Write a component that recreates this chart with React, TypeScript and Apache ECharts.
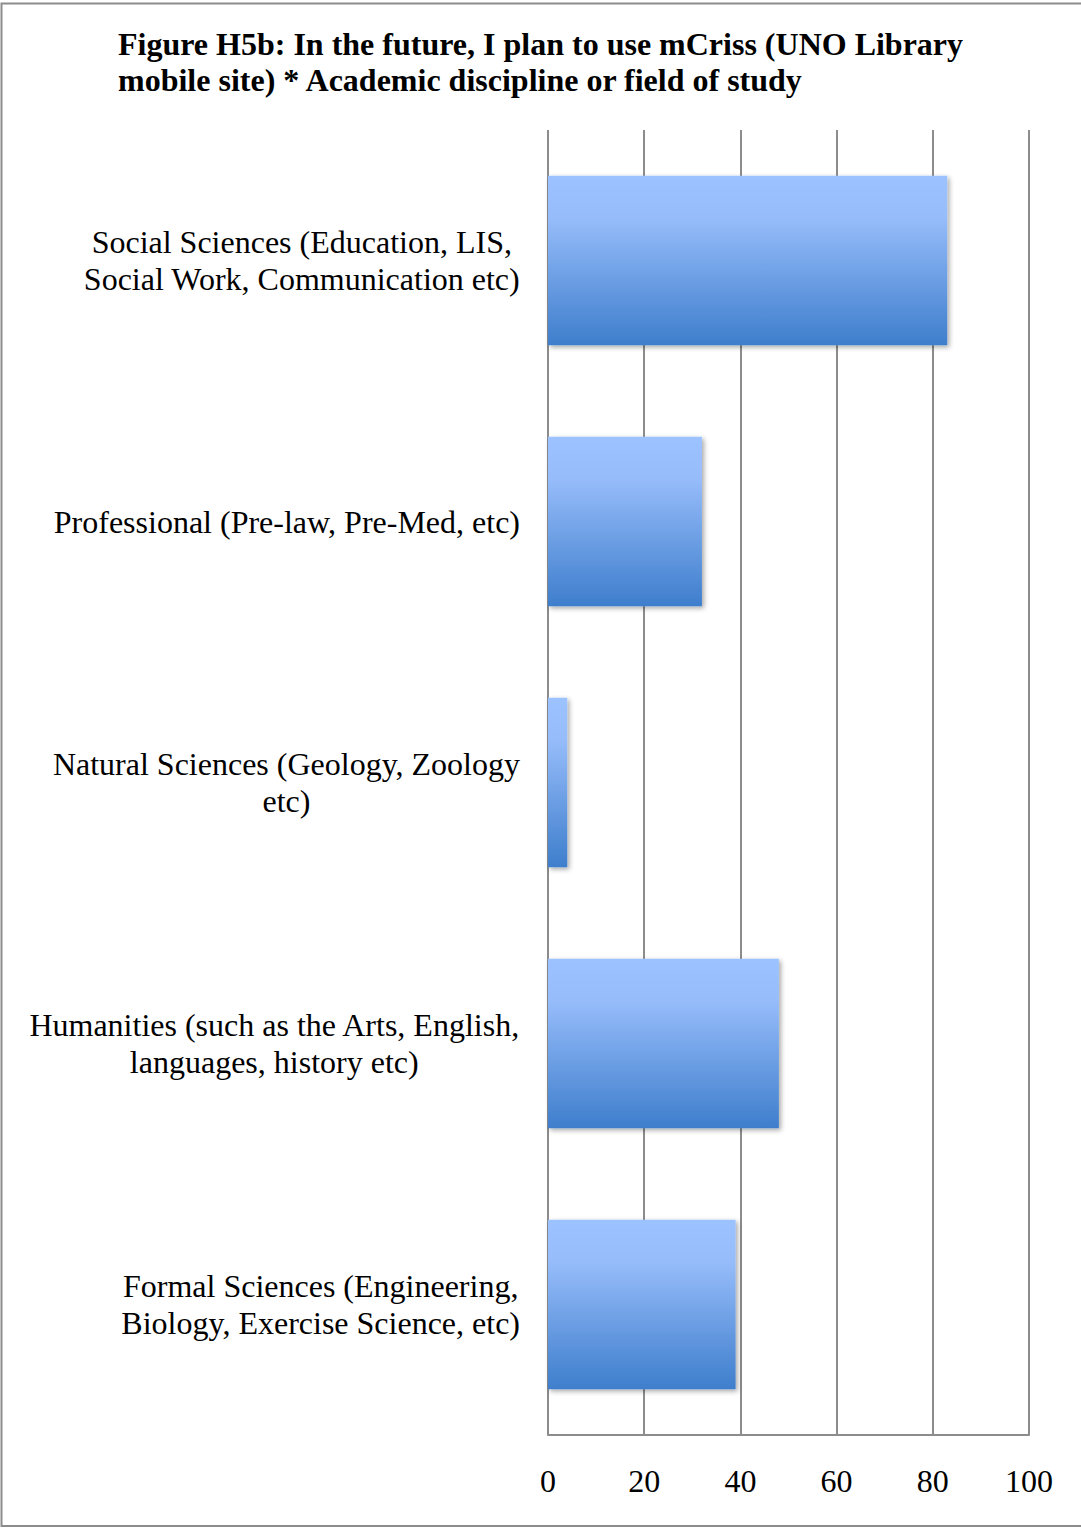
import React, { useEffect, useRef } from "react";
import * as echarts from "echarts";

const titleText =
  "Figure H5b: In the future, I plan to use mCriss (UNO Library\nmobile site) * Academic discipline or field of study";

const categories = [
  "Social Sciences (Education, LIS,\nSocial Work, Communication etc)",
  "Professional (Pre-law, Pre-Med, etc)",
  "Natural Sciences (Geology, Zoology\netc)",
  "Humanities (such as the Arts, English,\nlanguages, history etc)",
  "Formal Sciences (Engineering,\nBiology, Exercise Science, etc)",
];

const values = [83, 32, 4, 48, 39];

const xMin = 0;
const xMax = 100;
const xInterval = 20;

const FONT = "'Liberation Serif', 'Times New Roman', serif";

export default function App() {
  const ref = useRef<HTMLDivElement>(null);

  useEffect(() => {
    document.body.style.margin = "0";
    if (!ref.current) return;
    const chart = echarts.init(ref.current, null, { renderer: "svg" });
    chart.setOption({
      animation: false,
      backgroundColor: "#ffffff",
      title: {
        text: titleText,
        left: 113,
        top: 21,
        textStyle: {
          fontFamily: FONT,
          fontWeight: "bold",
          fontSize: 32,
          color: "#000000",
          lineHeight: 36,
        },
      },
      graphic: [
        {
          type: "rect",
          shape: { x: 1.5, y: 3.5, width: 1090, height: 1522.5 },
          style: { fill: "none", stroke: "#8c8c8c", lineWidth: 2 },
          silent: true,
        },
      ],
      grid: {
        left: 548,
        right: 52,
        top: 130,
        bottom: 93,
        containLabel: false,
      },
      xAxis: {
        type: "value",
        min: xMin,
        max: xMax,
        interval: xInterval,
        axisLine: { show: true, lineStyle: { color: "#8c8c8c", width: 2 } },
        axisTick: { show: false },
        splitLine: { show: true, lineStyle: { color: "#8c8c8c", width: 2 } },
        axisLabel: {
          margin: 30,
          fontFamily: FONT,
          fontSize: 32,
          color: "#000000",
        },
      },
      yAxis: {
        type: "category",
        data: categories,
        inverse: true,
        axisLine: { show: false },
        axisTick: { show: false },
        splitLine: { show: false },
        axisLabel: {
          margin: 28,
          fontFamily: FONT,
          fontSize: 32,
          color: "#000000",
          lineHeight: 37,
          align: "right",
          formatter: (v: string) =>
            v
              .split("\n")
              .map((l) => `{c|${l}}`)
              .join("\n"),
          rich: {
            c: {
              align: "center",
              fontFamily: FONT,
              fontSize: 32,
              color: "#000000",
              lineHeight: 37,
            },
          },
        },
      },
      series: [
        {
          type: "bar",
          data: values,
          barCategoryGap: "35%",
          itemStyle: {
            color: new echarts.graphic.LinearGradient(0, 0, 0, 1, [
              { offset: 0, color: "#9CC2FF" },
              { offset: 0.25, color: "#96BCFA" },
              { offset: 1, color: "#3E7ECC" },
            ]),
            shadowColor: "rgba(0,0,0,0.35)",
            shadowBlur: 5,
            shadowOffsetX: 2,
            shadowOffsetY: 2,
          },
        },
      ],
    });
    return () => chart.dispose();
  }, []);

  return <div ref={ref} style={{ width: 1081, height: 1528 }} />;
}
